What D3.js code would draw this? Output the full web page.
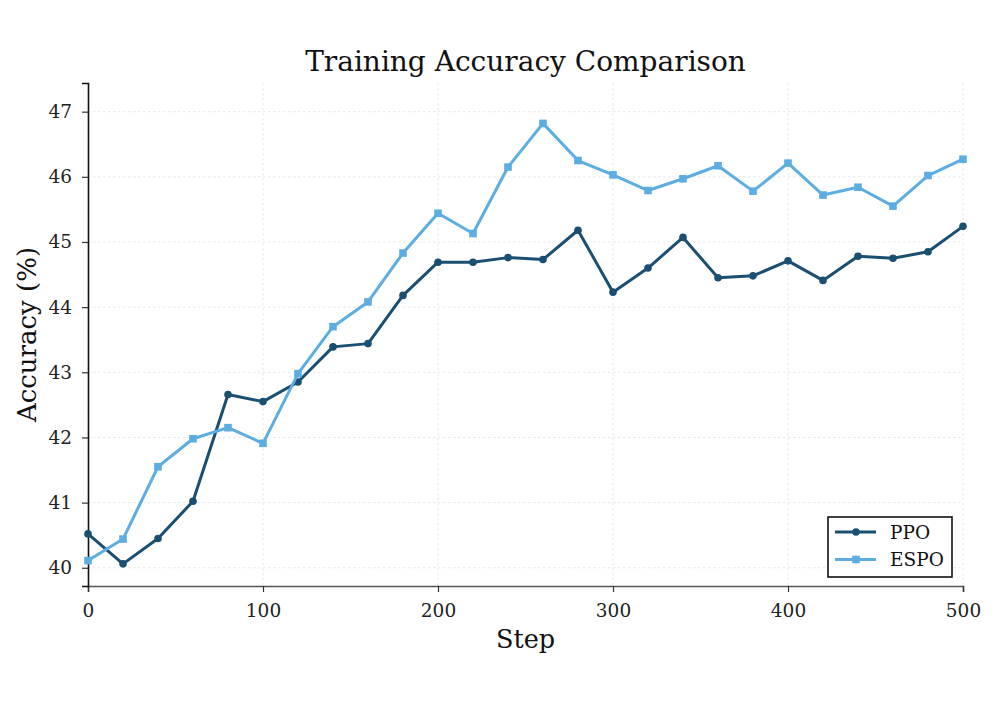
<!DOCTYPE html>
<html lang="en">
<head>
    <meta charset="UTF-8">
    <title>Training Accuracy Comparison</title>
    <script src="https://d3js.org/d3.v7.min.js"></script>
    <style>
        body { margin: 0; background: #fff; }
        svg text { font-family: "DejaVu Serif", serif; }
    </style>
</head>
<body>
    <svg id="chart" width="996" height="704"></svg>
    <script>
        // Data
        var steps = [0, 20, 40, 60, 80, 100, 120, 140, 160, 180, 200, 220, 240, 260, 280, 300, 320, 340, 360, 380, 400, 420, 440, 460, 480, 500];
        var ppo = [40.52, 40.06, 40.45, 41.02, 42.66, 42.55, 42.85, 43.39, 43.44, 44.18, 44.69, 44.69, 44.76, 44.73, 45.18, 44.23, 44.60, 45.07, 44.45, 44.48, 44.71, 44.41, 44.78, 44.75, 44.85, 45.24];
        var espo = [40.11, 40.44, 41.55, 41.98, 42.15, 41.91, 42.98, 43.70, 44.08, 44.83, 45.44, 45.13, 46.15, 46.82, 46.25, 46.03, 45.79, 45.97, 46.17, 45.78, 46.21, 45.72, 45.84, 45.55, 46.02, 46.27];
        var xTicks = [0, 100, 200, 300, 400, 500];
        var yTicks = [40, 41, 42, 43, 44, 45, 46, 47];

        var series = [
            { name: "PPO", values: ppo, color: "#1b4f72", marker: "circle" },
            { name: "ESPO", values: espo, color: "#5dade2", marker: "square" }
        ];

        var svg = d3.select("#chart");
        var margin = { top: 83, left: 88, right: 33, bottom: 118 };
        var width = 996 - margin.left - margin.right;
        var height = 704 - margin.top - margin.bottom;

        var x = d3.scaleLinear().domain([0, 500]).range([0, width]);
        var y = d3.scaleLinear().domain([39.72, 47.44]).range([height, 0]);

        var g = svg.append("g")
            .attr("transform", "translate(" + margin.left + "," + margin.top + ")");

        // grid
        g.append("g").selectAll("line.gy").data(yTicks).enter().append("line")
            .attr("x1", 0).attr("x2", width)
            .attr("y1", function(d) { return y(d); }).attr("y2", function(d) { return y(d); })
            .attr("stroke", "#e2e2e2").attr("stroke-width", 0.8).attr("stroke-dasharray", "2.5,2.5");
        g.append("g").selectAll("line.gx").data(xTicks).enter().append("line")
            .attr("y1", 0).attr("y2", height)
            .attr("x1", function(d) { return x(d); }).attr("x2", function(d) { return x(d); })
            .attr("stroke", "#e2e2e2").attr("stroke-width", 0.8).attr("stroke-dasharray", "2.5,2.5");

        // axes
        var xAxis = g.append("g")
            .attr("transform", "translate(0," + height + ")")
            .call(d3.axisBottom(x).tickValues(xTicks).tickSize(6).tickPadding(12).tickFormat(d3.format("d")));
        var yAxis = g.append("g")
            .call(d3.axisLeft(y).tickValues(yTicks).tickSize(6).tickPadding(10).tickFormat(d3.format("d")));

        [xAxis, yAxis].forEach(function(a) {
            a.selectAll("text").attr("font-size", 18.5).attr("fill", "#222")
                .attr("font-family", "DejaVu Serif");
            a.selectAll(".tick line").attr("stroke", "#333").attr("stroke-width", 1.2);
        });
        xAxis.select(".domain").attr("stroke", "#555").attr("stroke-width", 1.6);
        yAxis.select(".domain").attr("stroke", "#111").attr("stroke-width", 1.6);

        // lines
        var line = d3.line()
            .x(function(d, i) { return x(steps[i]); })
            .y(function(d) { return y(d); });

        series.forEach(function(s) {
            g.append("path")
                .datum(s.values)
                .attr("fill", "none")
                .attr("stroke", s.color)
                .attr("stroke-width", 3)
                .attr("stroke-linejoin", "round")
                .attr("d", line);

            if (s.marker === "circle") {
                g.append("g").selectAll("circle").data(s.values).enter().append("circle")
                    .attr("cx", function(d, i) { return x(steps[i]); })
                    .attr("cy", function(d) { return y(d); })
                    .attr("r", 3.8)
                    .attr("fill", s.color);
            } else {
                g.append("g").selectAll("rect").data(s.values).enter().append("rect")
                    .attr("x", function(d, i) { return x(steps[i]) - 3.8; })
                    .attr("y", function(d) { return y(d) - 3.8; })
                    .attr("width", 7.6).attr("height", 7.6)
                    .attr("fill", s.color);
            }
        });

        // title and labels
        svg.append("text")
            .attr("x", margin.left + width / 2).attr("y", 71)
            .attr("text-anchor", "middle").attr("font-size", 28).attr("fill", "#111")
            .text("Training Accuracy Comparison");
        svg.append("text")
            .attr("x", margin.left + width / 2).attr("y", 648)
            .attr("text-anchor", "middle").attr("font-size", 25.5).attr("fill", "#111")
            .text("Step");
        svg.append("text")
            .attr("transform", "translate(36," + (margin.top + height / 2) + ") rotate(-90)")
            .attr("text-anchor", "middle").attr("font-size", 26).attr("fill", "#111")
            .text("Accuracy (%)");

        // legend
        var lg = svg.append("g").attr("transform", "translate(828,517)");
        lg.append("rect").attr("width", 124).attr("height", 60)
            .attr("fill", "#fff").attr("stroke", "#111").attr("stroke-width", 1.6);
        series.forEach(function(s, i) {
            var ly = 15 + i * 27.5;
            lg.append("line").attr("x1", 7).attr("x2", 48).attr("y1", ly).attr("y2", ly)
                .attr("stroke", s.color).attr("stroke-width", 3);
            if (s.marker === "circle") {
                lg.append("circle").attr("cx", 28).attr("cy", ly).attr("r", 3.8).attr("fill", s.color);
            } else {
                lg.append("rect").attr("x", 24.2).attr("y", ly - 3.8).attr("width", 7.6).attr("height", 7.6).attr("fill", s.color);
            }
            lg.append("text").attr("x", 62).attr("y", ly + 6.5)
                .attr("font-size", 18.5).attr("fill", "#111").text(s.name);
        });
    </script>
</body>
</html>
